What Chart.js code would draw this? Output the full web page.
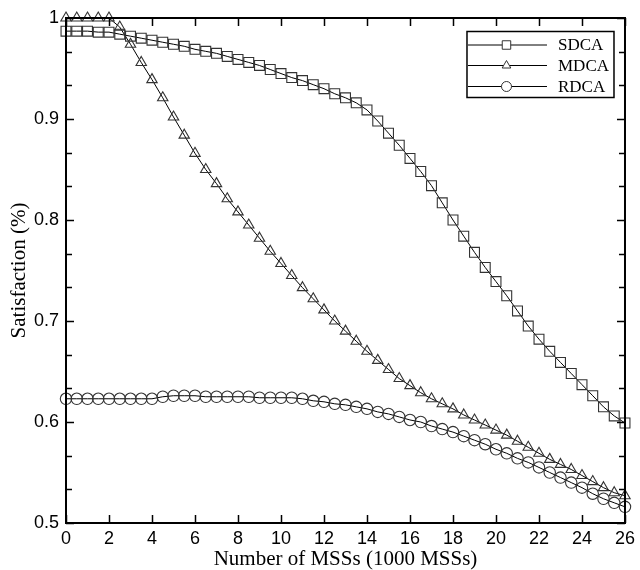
<!DOCTYPE html>
<html>
<head>
<meta charset="utf-8">
<script src="https://cdn.jsdelivr.net/npm/chart.js@4/dist/chart.umd.min.js"></script>
<style>
html,body{margin:0;padding:0;background:#fff;}
#wrap{width:640px;height:570px;position:relative;}
</style>
</head>
<body>
<div id="wrap"><canvas id="c" width="640" height="570"></canvas></div>
<script>
// ---- data ----
const xValues = [0,0.5,1,1.5,2,2.5,3,3.5,4,4.5,5,5.5,6,6.5,7,7.5,8,8.5,9,9.5,10,10.5,11,11.5,12,12.5,13,13.5,14,14.5,15,15.5,16,16.5,17,17.5,18,18.5,19,19.5,20,20.5,21,21.5,22,22.5,23,23.5,24,24.5,25,25.5,26];
const seriesNames = ['SDCA','MDCA','RDCA'];
const sdca = [0.987,0.987,0.987,0.986,0.986,0.984,0.982,0.980,0.978,0.976,0.974,0.972,0.969,0.967,0.965,0.962,0.959,0.956,0.953,0.949,0.945,0.941,0.938,0.934,0.930,0.925,0.921,0.916,0.909,0.898,0.886,0.874,0.861,0.848,0.834,0.817,0.800,0.784,0.768,0.753,0.739,0.725,0.710,0.695,0.682,0.670,0.659,0.648,0.637,0.626,0.615,0.606,0.599];
const mdca = [1,1,1,1,1,0.991,0.974,0.956,0.939,0.921,0.902,0.884,0.866,0.850,0.836,0.821,0.808,0.795,0.782,0.769,0.757,0.745,0.733,0.722,0.711,0.700,0.690,0.680,0.670,0.661,0.652,0.643,0.636,0.629,0.623,0.618,0.613,0.607,0.602,0.597,0.592,0.587,0.581,0.575,0.569,0.563,0.558,0.553,0.547,0.541,0.535,0.530,0.527];
const rdca = [0.623,0.623,0.623,0.623,0.623,0.623,0.623,0.623,0.623,0.625,0.626,0.626,0.626,0.625,0.625,0.625,0.625,0.625,0.624,0.624,0.624,0.624,0.623,0.621,0.620,0.618,0.617,0.615,0.613,0.610,0.608,0.605,0.602,0.600,0.596,0.593,0.590,0.586,0.582,0.578,0.573,0.569,0.564,0.560,0.555,0.550,0.545,0.540,0.535,0.529,0.524,0.520,0.516];
const xTicks = [0,2,4,6,8,10,12,14,16,18,20,22,24,26];
const xTickLabels = ['0','2','4','6','8','10','12','14','16','18','20','22','24','26'];
const yTicks = [0.5,0.6,0.7,0.8,0.9,1];
const yTickLabels = ['0.5','0.6','0.7','0.8','0.9','1'];
const xTitle = 'Number of MSSs (1000 MSSs)';
const yTitle = 'Satisfaction (%)';

const pts = arr => xValues.map((x,i)=>({x:x,y:arr[i]}));
const markerColor = '#333';
const styles = [
  {pointStyle:'rect', radius:7},
  {pointStyle:'triangle', radius:6},
  {pointStyle:'circle', radius:5.7}
];
const seriesVals = [sdca, mdca, rdca];
const datasets = seriesNames.map((n,i)=>({
  label:n,
  data:pts(seriesVals[i]),
  borderColor:'#000',
  borderWidth:1,
  pointStyle:styles[i].pointStyle,
  pointRadius:styles[i].radius,
  pointBorderColor:markerColor,
  pointBorderWidth:1.1,
  pointBackgroundColor:'rgba(0,0,0,0)',
  fill:false,
  tension:0,
  clip:false
}));

const frameAndLegend = {
  id:'frameAndLegend',
  afterDraw(chart){
    const ctx = chart.ctx;
    const a = chart.chartArea;
    const xs = chart.scales.x, ys = chart.scales.y;
    ctx.save();
    ctx.strokeStyle = '#000';
    ctx.lineWidth = 2;
    ctx.strokeRect(a.left, a.top, a.right-a.left, a.bottom-a.top);
    ctx.lineWidth = 1.5;
    ctx.beginPath();
    xTicks.forEach(v=>{
      const px = Math.round(xs.getPixelForValue(v))+0.5;
      ctx.moveTo(px, a.bottom); ctx.lineTo(px, a.bottom-8);
      ctx.moveTo(px, a.top); ctx.lineTo(px, a.top+8);
    });
    for(let k=0;k<=15;k++){
      const v = 0.5 + k*(0.1/3);
      const py = Math.round(ys.getPixelForValue(v))+0.5;
      const len = (k%3===0)?8:6;
      ctx.moveTo(a.left, py); ctx.lineTo(a.left+len, py);
      ctx.moveTo(a.right, py); ctx.lineTo(a.right-len, py);
    }
    ctx.stroke();

    // legend
    const bx = a.right-158, by = a.top+13.5, bw = 147, bh = 66;
    ctx.fillStyle = '#fff';
    ctx.fillRect(bx,by,bw,bh);
    ctx.lineWidth = 1.5;
    ctx.strokeRect(bx,by,bw,bh);
    const rows = [by+13.5, by+34, by+55];
    ctx.font = '17px "Liberation Serif", "Times New Roman", serif';
    ctx.textBaseline = 'middle';
    ctx.textAlign = 'left';
    chart.data.datasets.forEach((ds,i)=>{
      const y = rows[i];
      ctx.strokeStyle = '#000'; ctx.lineWidth = 1;
      ctx.beginPath(); ctx.moveTo(bx+1, y); ctx.lineTo(bx+80, y); ctx.stroke();
      ctx.fillStyle='#fff';
      ctx.strokeStyle = markerColor; ctx.lineWidth=1;
      Chart.helpers.drawPoint(ctx, {pointStyle:ds.pointStyle, radius:ds.pointStyle==='rect'?6:5, borderWidth:1}, bx+39.5, y);
      ctx.fillStyle='#000';
      ctx.fillText(ds.label, bx+91, y+1);
    });
    ctx.restore();
  }
};

new Chart(document.getElementById('c'), {
  type:'line',
  data:{datasets:datasets},
  options:{
    responsive:false,
    animation:false,
    layout:{padding:{left:0,right:10,top:18,bottom:0}},
    plugins:{legend:{display:false},tooltip:{enabled:false}},
    scales:{
      x:{
        type:'linear', min:0, max:26,
        afterBuildTicks(s){ s.ticks = xTicks.map(v=>({value:v})); },
        afterFit(s){ s.height = 47; },
        grid:{display:false, drawTicks:false}, border:{display:false},
        ticks:{color:'#000', padding:5, maxRotation:0, autoSkip:false,
          font:{family:'"Liberation Sans", Arial, sans-serif', size:18},
          callback:(v)=>xTickLabels[xTicks.indexOf(v)]},
        title:{display:true, text:xTitle, color:'#000', padding:{top:0,bottom:0},
          font:{family:'"Liberation Serif", "Times New Roman", serif', size:21, lineHeight:1.0}}
      },
      y:{
        type:'linear', min:0.5, max:1,
        afterBuildTicks(s){ s.ticks = yTicks.map(v=>({value:v})); },
        afterFit(s){ s.width = 66; },
        grid:{display:false, drawTicks:false}, border:{display:false},
        ticks:{color:'#000', padding:7, autoSkip:false,
          font:{family:'"Liberation Sans", Arial, sans-serif', size:18},
          callback:(v)=>{ const i = yTicks.findIndex(t=>Math.abs(t-v)<1e-9); return yTickLabels[i]; }},
        title:{display:true, text:yTitle, color:'#000', padding:{top:7,bottom:0},
          font:{family:'"Liberation Serif", "Times New Roman", serif', size:21}}
      }
    }
  },
  plugins:[frameAndLegend]
});
</script>
</body>
</html>
